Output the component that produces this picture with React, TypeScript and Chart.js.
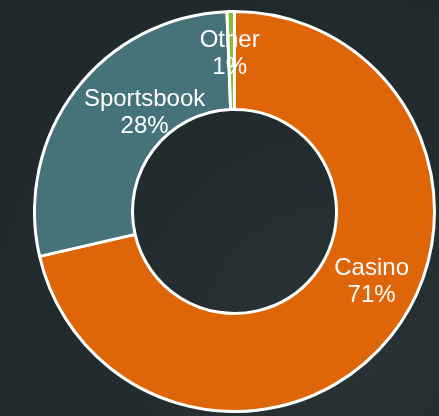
import React, { useEffect, useRef } from "react";
import { Chart, registerables } from "chart.js";

Chart.register(...registerables);

const categories = ["Casino", "Sportsbook", "Other"];
const shares = [71.4, 28.0, 0.6];
const shareLabels = ["71%", "28%", "1%"];
const sliceColors = ["#DE6508", "#46737A", "#8DB83A"];
// pixel nudges of each label away from the slice's mid point (styling only)
const labelNudge = [
  [19, -26],
  [30, -9],
  [-2, -9],
];

const sliceLabels = {
  id: "sliceLabels",
  afterDatasetsDraw(chart: any) {
    const { ctx } = chart;
    const meta = chart.getDatasetMeta(0);
    ctx.save();
    ctx.fillStyle = "#ffffff";
    ctx.font = '24px "Liberation Sans", Arial, sans-serif';
    ctx.textAlign = "center";
    ctx.textBaseline = "alphabetic";
    meta.data.forEach((arc: any, i: number) => {
      const p = arc.tooltipPosition();
      const cx = p.x + labelNudge[i][0];
      const cy = p.y + labelNudge[i][1];
      ctx.fillText(categories[i], cx, cy - 5);
      ctx.fillText(shareLabels[i], cx, cy + 22);
    });
    ctx.restore();
  },
};

export default function App() {
  const ref = useRef<HTMLCanvasElement | null>(null);
  useEffect(() => {
    document.body.style.margin = "0";
    const chart = new Chart(ref.current as HTMLCanvasElement, {
      type: "doughnut",
      data: {
        labels: categories,
        datasets: [
          {
            data: shares,
            backgroundColor: sliceColors,
            borderColor: "#ffffff",
            borderWidth: 3,
          },
        ],
      },
      options: {
        animation: false,
        responsive: false,
        cutout: "51%",
        layout: { padding: 0 },
        plugins: {
          legend: { display: false },
          tooltip: { enabled: false },
        },
      },
      plugins: [sliceLabels],
    });
    return () => chart.destroy();
  }, []);

  return (
    <div
      style={{
        position: "fixed",
        left: 0,
        top: 0,
        width: 439,
        height: 416,
        overflow: "hidden",
        background:
          "radial-gradient(circle at 75% 80%, #2a3436 0%, #232c2e 40%, #1e2729 100%)",
      }}
    >
      <canvas
        ref={ref}
        width={403}
        height={403}
        style={{ position: "absolute", left: 33, top: 10, width: 403, height: 403 }}
      />
    </div>
  );
}
